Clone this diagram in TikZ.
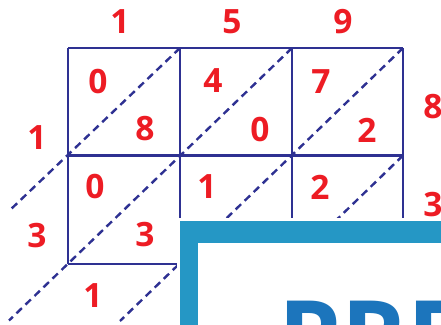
\documentclass[tikz,border=0pt]{standalone}
\usepackage{fontspec}
\setmainfont{Open Sans}
\definecolor{digred}{HTML}{ED1C24}
\definecolor{gridblue}{HTML}{2E3192}
\definecolor{frameblue}{HTML}{2597C5}
\definecolor{markblue}{HTML}{1C75BC}
\tikzset{
  gridline/.style={draw=gridblue, line width=2.3pt},
  diagline/.style={draw=gridblue, line width=2.4pt, dash pattern=on 7.5pt off 5pt},
  digit/.style={text=digred, font=\fontsize{33.5}{34}\selectfont\bfseries, inner sep=0pt},
}
\begin{document}
\begin{tikzpicture}[x=1pt, y=-1pt]
\useasboundingbox (0,0) rectangle (441,324);
\clip (0,0) rectangle (441,324);
% grid corners
\coordinate (a0) at (68,48);   \coordinate (a1) at (180,48);  \coordinate (a2) at (292,48);  \coordinate (a3) at (403,48);
\coordinate (b0) at (68,155.5); \coordinate (b1) at (180,155.5); \coordinate (b2) at (292,155.5); \coordinate (b3) at (403,155.5);
\coordinate (c0) at (68,264);  \coordinate (c1) at (180,264); \coordinate (c2) at (292,264); \coordinate (c3) at (403,264);
% diagonals
\path[diagline] (a1) -- (9,211);
\path[diagline] (a2) -- (9,320.5);
\path[diagline] (a3) -- (120,321);
\path[diagline] (b3) -- (232,321);
% grid
\path[gridline] (a0) -- (a3);
\path[gridline] (b0) -- (b3);
\path[gridline] (c0) -- (c1);
\path[gridline] (a0) -- (c0);
\path[gridline] (a1) -- (c1);
\path[gridline] (a2) -- (c2);
\path[gridline] (a3) -- (c3);
% frame overlay
\fill[white] (177,218) rectangle (460,340);
\fill[frameblue] (180,221) rectangle (460,340);
\fill[white] (198,243) rectangle (460,340);
\node[anchor=base west, inner sep=0pt, text=markblue, font=\fontsize{100}{100}\selectfont\bfseries] (mark) at (278,372) {PREVIEW};
% digits
\node[digit] (t1) at (120,22) {1};
\node[digit] (t2) at (232,22) {5};
\node[digit] (t3) at (343,22) {9};
\node[digit] (l1) at (37,138) {1};
\node[digit] (l2) at (37,236) {3};
\node[digit] (r1) at (433,107) {8};
\node[digit] (r2) at (433,205) {3};
\node[digit] (bt) at (93,296) {1};
\node[digit] (u11) at (98,82) {0};
\node[digit] (d11) at (145,129) {8};
\node[digit] (u12) at (213,81) {4};
\node[digit] (d12) at (260,130) {0};
\node[digit] (u13) at (321,82) {7};
\node[digit] (d13) at (367,130) {2};
\node[digit] (u21) at (95,187) {0};
\node[digit] (d21) at (145,235) {3};
\node[digit] (u22) at (207,187) {1};
\node[digit] (u23) at (320,187) {2};
\end{tikzpicture}
\end{document}
